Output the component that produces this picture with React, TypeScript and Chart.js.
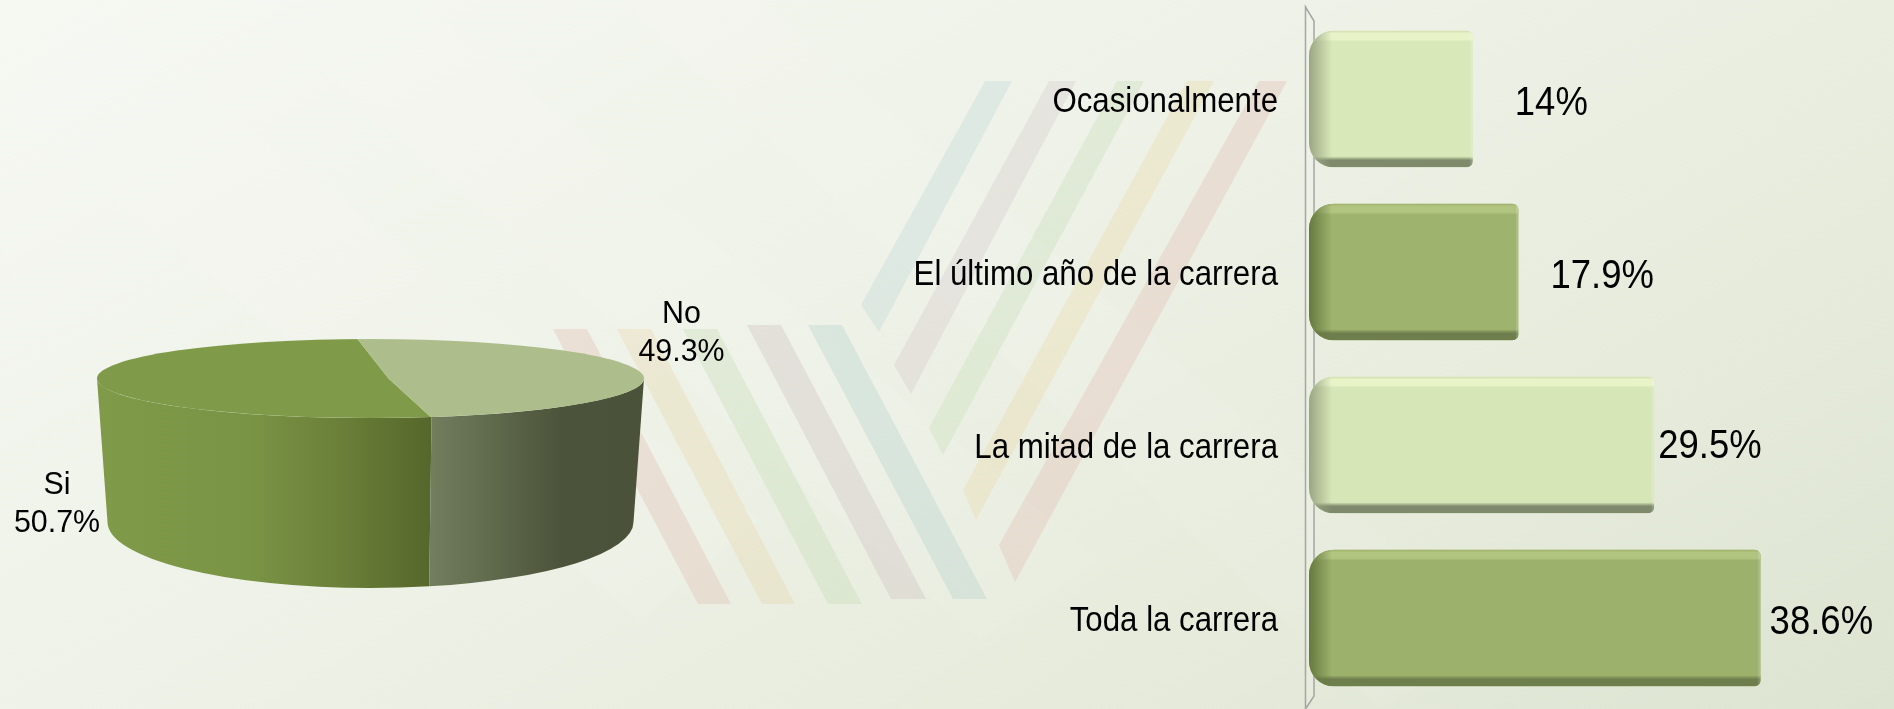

import React, { useEffect, useRef } from "react";
import { Chart, registerables } from "chart.js";

Chart.register(...registerables);

const pieLabels = ["Si", "No"];
const pieValues = [50.7, 49.3];
const barCategories = ["Ocasionalmente", "El último año de la carrera", "La mitad de la carrera", "Toda la carrera"];
const barValues = [14, 17.9, 29.5, 38.6];
const barValueText = ["14%", "17.9%", "29.5%", "38.6%"];

const W = 1894;
const H = 709;
const FONT = '"Liberation Sans", Arial, sans-serif';

const PIE_TOP = ["#7f9a48", "#adbd8b"];
const PIE_WALL: [number, string][][] = [
  [[0, "#7f9a49"], [0.45, "#7a9445"], [0.72, "#6b8039"], [1, "#55672b"]],
  [[0, "#737e5f"], [0.3, "#5f694c"], [0.62, "#4b533a"], [1, "#4a5239"]],
];
const BAR_FILL = ["#d9e8b9", "#9eb36d", "#d7e6b6", "#9cb16b"];
const BAR_BEVEL = [
  { left: "#9aa684", edge: "#cfdcae", top: "#e8f4c8", bottom: "#7e8a6b" },
  { left: "#66793f", edge: "#9cb06c", top: "#b1c480", bottom: "#6e7e4d" },
  { left: "#9aa684", edge: "#cfdcae", top: "#e8f4c8", bottom: "#7e8a6b" },
  { left: "#66793f", edge: "#9cb06c", top: "#b1c480", bottom: "#6e7e4d" },
];
const VALUE_GAP = [42, 32, 4, 9];
const VALUE_DY = [5, 5, 2, 5];
const TICK_SQUEEZE = 0.905;
const VALUE_SQUEEZE = 0.89;
const PIE_TEXT_SQUEEZE = 0.98;

const DOWN_STRIPES = [
  { pts: "553,329 587,329 731,604 698,604", c: "#dca99b", o: 0.25 },
  { pts: "617,329 651,329 795,604 762,604", c: "#e6cf9d", o: 0.27 },
  { pts: "683,329 717,329 862,604 828,604", c: "#bad6a8", o: 0.27 },
  { pts: "747,325 781,325 926,599 891,599", c: "#c4b0b4", o: 0.27 },
  { pts: "808,325 842,325 987,599 953,599", c: "#a6c9c6", o: 0.28 },
];
const UP_STRIPES = [
  { pts: "985,81 1012,81 879,332 861,305", c: "#a6c9d2", o: 0.22 },
  { pts: "1049,81 1076,81 911,394 894,365", c: "#c9b0bb", o: 0.22 },
  { pts: "1117,81 1144,81 943,455 929,428", c: "#b7d6a8", o: 0.25 },
  { pts: "1187,81 1214,81 976,520 963,490", c: "#ead39b", o: 0.28 },
  { pts: "1259,81 1287,81 1015,582 999,545", c: "#e0a99e", o: 0.25 },
];
const GLOSS_BANDS = [
  "0,110 80,0 760,520 640,620",
  "240,0 420,0 1100,560 980,640",
  "620,0 760,0 1500,640 1380,709",
];

const PIE_TILT = 39.5 / 273.5;
const PIE_BASE = { dy: 143.5, rx: 263 / 273.5, ry: 66 };
const PIE_SLICE_SHIFT = 18;
const PIE_SLICE_ZOOM = 1.08;
const PIE_WALL_SKEW = (-3.9 * Math.PI) / 180;
const PIE_LABEL_ANCHOR = [
  { dx: -313.5, dy: 126 },
  { dx: 311, dy: -45 },
];

function squeezedText(ctx: any, text: string, x: number, y: number, k: number) {
  ctx.save();
  ctx.translate(x, y);
  ctx.scale(k, 1);
  ctx.fillText(text, 0, 0);
  ctx.restore();
}

const pieDepth = {
  id: "pieDepth",
  beforeDatasetsDraw(chart: any) {
    const { ctx } = chart;
    const meta = chart.getDatasetMeta(0);
    const cx = meta.data[0].x;
    const cy = meta.data[0].y;
    const R = meta.data[0].outerRadius;
    const ry = R * PIE_TILT;
    const rx2 = R * PIE_BASE.rx;
    const cy2 = cy + PIE_BASE.dy;
    meta.data.forEach((arc: any, i: number) => {
      const start = arc.startAngle + PIE_WALL_SKEW;
      const end = arc.endAngle + PIE_WALL_SKEW;
      for (const turn of [-2, 0, 2]) {
        const a = Math.max(start, turn * Math.PI);
        const b = Math.min(end, (turn + 1) * Math.PI);
        if (b <= a) continue;
        const xs = [cx + R * Math.cos(a), cx + R * Math.cos(b), cx + rx2 * Math.cos(a), cx + rx2 * Math.cos(b)];
        const g = ctx.createLinearGradient(Math.min(...xs), 0, Math.max(...xs), 0);
        PIE_WALL[i].forEach(([s, c]) => g.addColorStop(s, c));
        ctx.beginPath();
        ctx.ellipse(cx, cy, R, ry, 0, a, b, false);
        ctx.ellipse(cx, cy2, rx2, PIE_BASE.ry, 0, b, a, true);
        ctx.closePath();
        ctx.fillStyle = g;
        ctx.fill();
      }
    });
    ctx.save();
    ctx.beginPath();
    ctx.ellipse(cx, cy, R, ry, 0, 0, Math.PI * 2);
    ctx.clip();
    ctx.translate(cx + PIE_SLICE_SHIFT, cy);
    ctx.scale(PIE_SLICE_ZOOM, PIE_TILT * PIE_SLICE_ZOOM);
    ctx.translate(-cx, -cy);
  },
  afterDatasetsDraw(chart: any) {
    const { ctx } = chart;
    ctx.restore();
    const meta = chart.getDatasetMeta(0);
    const cx = meta.data[0].x;
    const cy = meta.data[0].y;
    ctx.save();
    ctx.font = `31px ${FONT}`;
    ctx.fillStyle = "#000";
    ctx.textAlign = "center";
    ctx.textBaseline = "middle";
    meta.data.forEach((_arc: any, i: number) => {
      const lx = cx + PIE_LABEL_ANCHOR[i].dx;
      const ly = cy + PIE_LABEL_ANCHOR[i].dy;
      squeezedText(ctx, pieLabels[i], lx, ly - 19, PIE_TEXT_SQUEEZE);
      squeezedText(ctx, `${pieValues[i]}%`, lx, ly + 19, PIE_TEXT_SQUEEZE);
    });
    ctx.restore();
  },
};

const barDecor = {
  id: "barDecor",
  afterLayout(chart: any) {
    const yScale = chart.scales.y;
    if (yScale.__squeezed) return;
    yScale.__squeezed = true;
    const drawLabels = yScale.drawLabels;
    yScale.drawLabels = function (area: any) {
      const { ctx } = chart;
      const pivot = chart.chartArea.left - 31;
      ctx.save();
      ctx.translate(pivot, 3);
      ctx.scale(TICK_SQUEEZE, 1);
      ctx.translate(-pivot, 0);
      drawLabels.call(this, area);
      ctx.restore();
    };
  },
  beforeDatasetsDraw(chart: any) {
    const { ctx, chartArea } = chart;
    const l = chartArea.left - 3.5;
    const r = chartArea.left + 5;
    ctx.save();
    ctx.strokeStyle = "#a2a7a2";
    ctx.lineWidth = 1.5;
    ctx.fillStyle = "rgba(255,255,255,0.12)";
    ctx.beginPath();
    ctx.moveTo(l, 7);
    ctx.lineTo(r, 21);
    ctx.lineTo(r, 696);
    ctx.lineTo(l, 709);
    ctx.closePath();
    ctx.fill();
    ctx.stroke();
    ctx.restore();
  },
  afterDatasetsDraw(chart: any) {
    const { ctx } = chart;
    const meta = chart.getDatasetMeta(0);
    meta.data.forEach((bar: any, i: number) => {
      const x0 = bar.base;
      const x1 = bar.x;
      const y0 = bar.y - bar.height / 2;
      const y1 = bar.y + bar.height / 2;
      const bevel = BAR_BEVEL[i];
      const fill = BAR_FILL[i];
      ctx.save();
      ctx.beginPath();
      ctx.roundRect(x0, y0, x1 - x0, y1 - y0, [25, 6, 6, 25]);
      ctx.clip();

      const gt = ctx.createLinearGradient(0, y0, 0, y0 + 11);
      gt.addColorStop(0, bevel.edge);
      gt.addColorStop(0.25, bevel.top);
      gt.addColorStop(0.78, bevel.top);
      gt.addColorStop(1, fill);
      ctx.fillStyle = gt;
      ctx.fillRect(x0, y0, x1 - x0, 11);

      const gb = ctx.createLinearGradient(0, y1 - 11, 0, y1);
      gb.addColorStop(0, fill);
      gb.addColorStop(0.35, bevel.bottom);
      gb.addColorStop(1, bevel.bottom);
      ctx.fillStyle = gb;
      ctx.fillRect(x0, y1 - 11, x1 - x0, 11);

      const g = ctx.createLinearGradient(x0, 0, x0 + 23, 0);
      g.addColorStop(0, bevel.left);
      g.addColorStop(1, `${bevel.left}00`);
      ctx.fillStyle = g;
      ctx.fillRect(x0, y0, 23, y1 - y0);

      ctx.fillStyle = "rgba(255,255,255,0.15)";
      ctx.fillRect(x1 - 2.5, y0, 2.5, y1 - y0);
      ctx.restore();

      ctx.save();
      ctx.font = `41px ${FONT}`;
      ctx.fillStyle = "#000";
      ctx.textAlign = "left";
      ctx.textBaseline = "middle";
      squeezedText(ctx, barValueText[i], x1 + VALUE_GAP[i], bar.y + VALUE_DY[i], VALUE_SQUEEZE);
      ctx.restore();
    });
  },
};

export default function App() {
  const pieRef = useRef<HTMLCanvasElement>(null);
  const barRef = useRef<HTMLCanvasElement>(null);

  useEffect(() => {
    const pie = new Chart(pieRef.current!, {
      type: "pie",
      data: {
        labels: pieLabels,
        datasets: [{ data: pieValues, backgroundColor: PIE_TOP, borderWidth: 0, clip: false } as any],
      },
      options: {
        animation: false,
        responsive: false,
        rotation: 171,
        layout: { padding: { left: 97, right: 116, top: 105, bottom: 57 } },
        plugins: { legend: { display: false }, tooltip: { enabled: false } },
      },
      plugins: [pieDepth],
    });
    const bar = new Chart(barRef.current!, {
      type: "bar",
      data: {
        labels: barCategories,
        datasets: [
          {
            data: barValues,
            backgroundColor: BAR_FILL,
            borderWidth: 0,
            borderSkipped: false,
            borderRadius: { topLeft: 25, bottomLeft: 25, topRight: 6, bottomRight: 6 },
            barPercentage: 0.79,
            categoryPercentage: 1,
          },
        ],
      },
      options: {
        animation: false,
        responsive: false,
        indexAxis: "y",
        layout: { autoPadding: false, padding: { top: 12.5, bottom: 4.5, left: 0, right: 0 } },
        scales: {
          x: { display: false, min: 0, max: 50 },
          y: {
            afterFit(scale: any) {
              scale.width = 509;
              scale.paddingTop = 0;
              scale.paddingBottom = 0;
            },
            grid: { display: false, drawTicks: false },
            border: { display: false },
            ticks: { color: "#000", font: { family: FONT, size: 34.5 }, padding: 31, autoSkip: false },
          },
        },
        plugins: { legend: { display: false }, tooltip: { enabled: false } },
      },
      plugins: [barDecor],
    });
    return () => {
      pie.destroy();
      bar.destroy();
    };
  }, []);

  return (
    <div style={{ position: "absolute", left: 0, top: 0, width: W, height: H, overflow: "hidden", background: "linear-gradient(150deg,#f6f8f2 0%,#f0f3ea 35%,#e9eddf 65%,#dde4d1 100%)" }}>
      <svg width={W} height={H} style={{ position: "absolute", left: 0, top: 0 }}>
        {GLOSS_BANDS.map((p, i) => (
          <polygon key={i} points={p} fill="#ffffff" opacity={0.08} />
        ))}
        {[...DOWN_STRIPES, ...UP_STRIPES].map((s, i) => (
          <polygon key={i} points={s.pts} fill={s.c} opacity={s.o} />
        ))}
      </svg>
      <canvas ref={pieRef} width={760} height={H} style={{ position: "absolute", left: 0, top: 0, width: 760, height: H }} />
      <canvas ref={barRef} width={1094} height={H} style={{ position: "absolute", left: 800, top: 0, width: 1094, height: H }} />
    </div>
  );
}
